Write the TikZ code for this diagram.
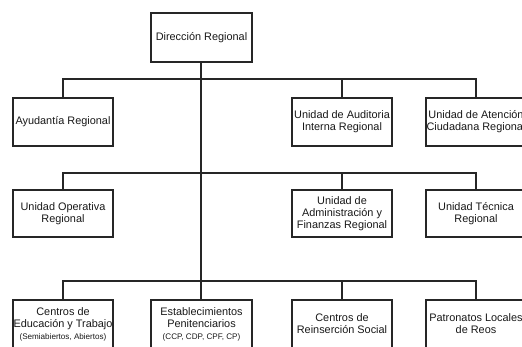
\documentclass[tikz,border=0pt]{standalone}
\usepackage{fontspec}
\setmainfont{Liberation Sans}
\begin{document}
\begin{tikzpicture}
[x=1pt, y=-1pt, draw=black!85, line width=1.2pt,
font=\fontsize{10.9}{12}\selectfont, text=black!90,
unit/.style={rectangle, draw, fill=white, inner sep=0pt, align=center,
  minimum width=100pt, minimum height=48pt}]

\clip (0,0) rectangle (522,347);

\node[unit, minimum width=101pt, minimum height=49pt] (dir) at (201.5,37.5) {Dirección Regional};

% first level
\node[unit] (ayu) at (63,122) {Ayudantía Regional};
\node[unit] (aud) at (342,122) {Unidad de Auditoria\\Interna Regional};
\node[unit] (ate) at (476,122) {Unidad de Atención\\Ciudadana Regional};

% second level
\node[unit, minimum height=47pt] (ope) at (63,213.5) {Unidad Operativa\\Regional};
\node[unit, minimum height=47pt] (adm) at (342,213.5) {Unidad de\\Administración y\\Finanzas Regional};
\node[unit, minimum height=47pt] (tec) at (476,213.5) {Unidad Técnica\\Regional};

% third level
\node[unit] (cet) at (63,324) {Centros de\\Educación y Trabajo\\{\fontsize{8.1}{9.5}\selectfont (Semiabiertos, Abiertos)}};
\node[unit, minimum width=101pt] (est) at (201.5,324) {Establecimientos\\Penitenciarios\\{\fontsize{8.1}{9.5}\selectfont (CCP, CDP, CPF, CP)}};
\node[unit] (crs) at (342,324) {Centros de\\Reinserción Social};
\node[unit] (pat) at (476,324) {Patronatos Locales\\de Reos};

\coordinate (b1) at (201,79);
\coordinate (b2) at (201,173);
\coordinate (b3) at (201,281);

\draw (dir.south -| b1) -- (est.north -| b1);
\draw (ayu.north) |- (b1) -| (ate.north);
\draw (b1) -| (aud.north);
\draw (ope.north) |- (b2) -| (tec.north);
\draw (b2) -| (adm.north);
\draw (cet.north) |- (b3) -| (pat.north);
\draw (b3) -| (crs.north);

\end{tikzpicture}
\end{document}
